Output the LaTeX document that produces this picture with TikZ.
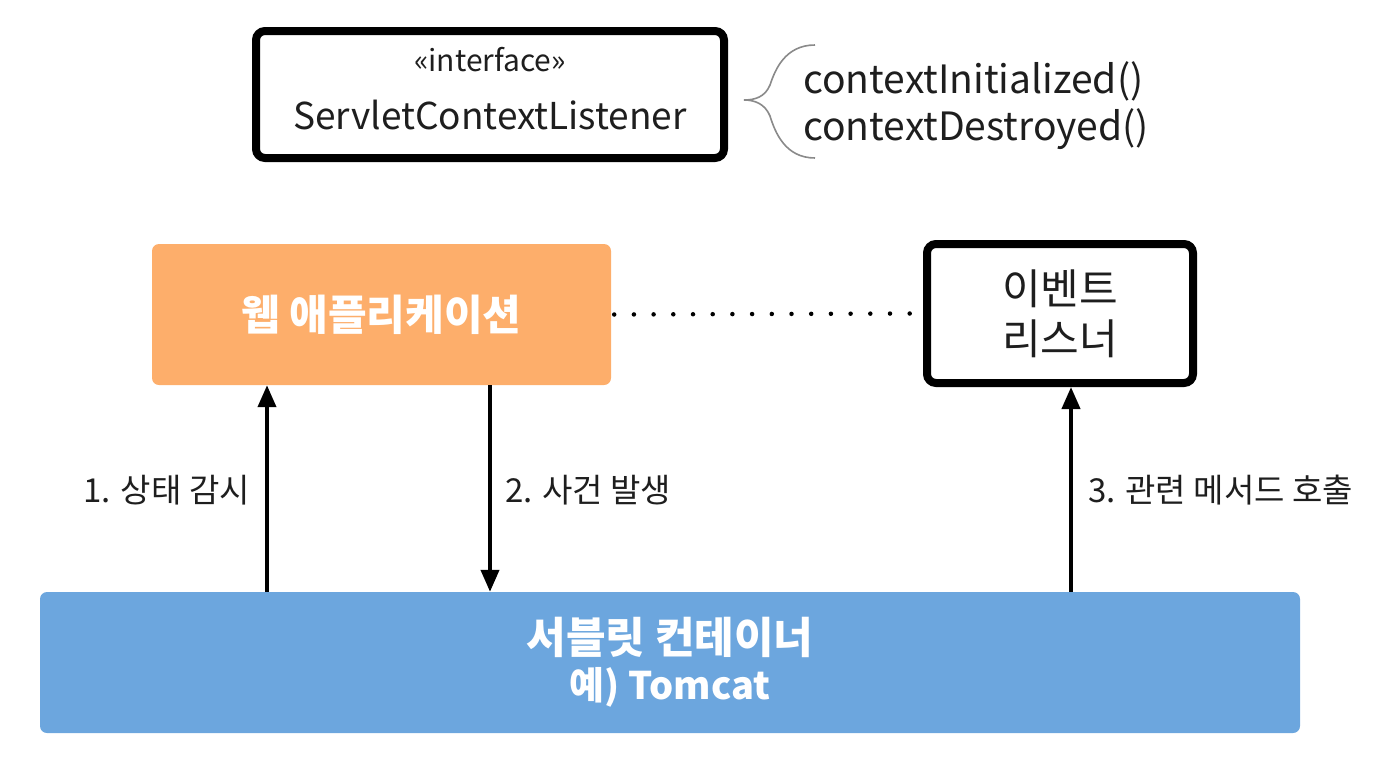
\documentclass[tikz,border=0pt]{standalone}
\usepackage{fontspec}
\setmainfont{Noto Sans CJK KR}
\usetikzlibrary{arrows.meta}
\definecolor{orangebox}{HTML}{FDAE6B}
\definecolor{bluebox}{HTML}{6CA6DE}
\definecolor{txt}{HTML}{1E1E1E}
\definecolor{bracegray}{HTML}{8A8A8A}
\tikzset{
  thickbox/.style={draw=black, line width=8pt, rounded corners=9pt, fill=white, inner sep=0pt, text=txt, align=center},
  fillbox/.style={rounded corners=7pt, inner sep=0pt, text=white, align=center, font=\bfseries\fontsize{42}{48}\selectfont},
  arr/.style={line width=4pt, -{Triangle[length=22pt,width=18pt]}},
  lbl/.style={text=txt, inner sep=0pt, font=\fontsize{33}{38}\selectfont},
  dotline/.style={line width=4.5pt, line cap=round, dash pattern=on 0pt off 19.7pt},
  plain/.style={text=txt, inner sep=0pt},
}
\begin{document}
\begin{tikzpicture}[x=1pt,y=-1pt]
\useasboundingbox (0,0) rectangle (1390,758);
% interface box
\node[thickbox, minimum width=468pt, minimum height=127pt] (iface) at (490,94.5) {};
\node[plain, font=\fontsize{30}{34}\selectfont] (stereo) at (490,60) {«interface»};
\node[plain, font=\fontsize{37}{42}\selectfont] (iname) at (490,115) {ServletContextListener};
% brace
\coordinate (bt) at (815,45);
\coordinate (bm) at (744,100);
\coordinate (bb) at (815,158);
\draw[bracegray, line width=1.6pt] (bt) .. controls (785,45) and (775,70) .. (770,85)
   .. controls (765,97) and (755,100) .. (bm)
   .. controls (755,100) and (765,104) .. (770,116)
   .. controls (775,132) and (785,158) .. (bb);
\node[plain, anchor=west, font=\fontsize{39}{44}\selectfont] (m1) at (803,81) {contextInitialized()};
\node[plain, anchor=west, font=\fontsize{39}{44}\selectfont] (m2) at (803,129) {contextDestroyed()};
% web application
\node[fillbox, fill=orangebox, minimum width=459pt, minimum height=141pt] (web) at (381.5,314.5) {웹 애플리케이션};
% event listener
\node[thickbox, minimum width=266pt, minimum height=139pt, font=\fontsize{42}{50}\selectfont] (lis) at (1060,313.5) {이벤트\\리스너};
% servlet container
\node[fillbox, fill=bluebox, minimum width=1260pt, minimum height=141pt] (cont) at (670,662.5) {{\fontsize{43}{48}\selectfont 서블릿 컨테이너}\\[-2pt]{\fontsize{38}{44}\selectfont 예) Tomcat}};
% dotted link
\draw[dotline] ([xshift=3pt]web.east) -- ([xshift=-12pt]lis.west);
% arrows
\coordinate (x1) at (267,0);
\coordinate (x2) at (490,0);
\coordinate (x3) at (1071,0);
\draw[arr] (cont.north -| x1) -- (web.south -| x1);
\draw[arr] (web.south -| x2) -- (cont.north -| x2);
\draw[arr] (cont.north -| x3) -- (lis.south -| x3);
% labels
\node[lbl, anchor=east] (l1) at (250,490) {1. 상태 감시};
\node[lbl, anchor=west] (l2) at (505,490) {2. 사건 발생};
\node[lbl, anchor=west] (l3) at (1088,490) {3. 관련 메서드 호출};
\end{tikzpicture}
\end{document}
